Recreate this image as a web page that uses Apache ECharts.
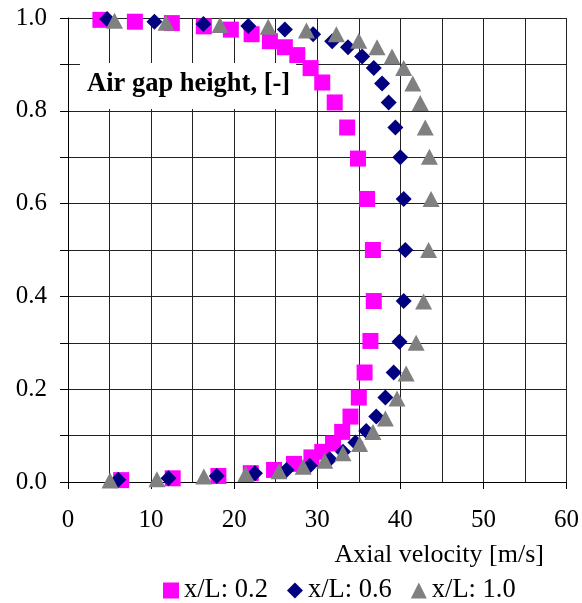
<!DOCTYPE html>
<html>
<head>
<meta charset="utf-8">
<script src="https://cdn.jsdelivr.net/npm/echarts@6/dist/echarts.min.js"></script>
<style>
  html, body { margin: 0; padding: 0; background: #fff; }
  #chart { width: 582px; height: 603px; }
</style>
</head>
<body>
<div id="chart"></div>
<script>
// Axial velocity [m/s] and normalised air gap height at three stations x/L
const velocity02 = [3.9, 8.05, 12.5, 16.35, 19.6, 22.1, 24.3, 26.1, 27.6, 29.2, 30.6, 32.1, 33.6, 34.9, 36.0,
  36.7, 36.8, 36.4, 35.7, 35.0, 34.0, 33.0, 31.9, 30.6, 29.3, 27.2, 24.8, 22.0, 18.1, 12.6, 6.4];
const height02 = [0.996, 0.992, 0.989, 0.982, 0.975, 0.965, 0.950, 0.937, 0.920, 0.892, 0.861, 0.818, 0.764, 0.697, 0.610,
  0.500, 0.390, 0.304, 0.236, 0.182, 0.141, 0.108, 0.083, 0.065, 0.053, 0.039, 0.026, 0.019, 0.013, 0.008, 0.004];

const velocity06 = [4.7, 10.4, 16.3, 21.7, 26.1, 29.5, 31.8, 33.7, 35.4, 36.8, 37.8, 38.6, 39.4, 40.0, 40.4,
  40.6, 40.4, 39.9, 39.2, 38.2, 37.1, 35.9, 34.6, 33.1, 31.5, 29.1, 26.3, 22.5, 17.9, 12.1, 6.05];
const height06 = [0.998, 0.992, 0.987, 0.983, 0.975, 0.965, 0.950, 0.937, 0.917, 0.892, 0.859, 0.818, 0.764, 0.700, 0.610,
  0.500, 0.390, 0.302, 0.236, 0.182, 0.141, 0.110, 0.085, 0.065, 0.049, 0.035, 0.026, 0.019, 0.013, 0.008, 0.005];

const velocity10 = [5.6, 11.8, 18.3, 24.1, 28.7, 32.3, 35.0, 37.2, 39.0, 40.4, 41.5, 42.4, 43.0, 43.5, 43.7,
  43.4, 42.8, 41.9, 40.7, 39.6, 38.2, 36.7, 35.1, 33.1, 30.9, 28.3, 25.4, 21.4, 16.35, 10.7, 5.05];
const height10 = [0.994, 0.990, 0.985, 0.981, 0.973, 0.965, 0.951, 0.937, 0.917, 0.892, 0.859, 0.817, 0.764, 0.701, 0.610,
  0.500, 0.389, 0.300, 0.234, 0.180, 0.137, 0.108, 0.082, 0.062, 0.046, 0.033, 0.023, 0.017, 0.012, 0.006, 0.003];

const seriesNames = ['x/L: 0.2', 'x/L: 0.6', 'x/L: 1.0'];

const pairs = (xs, ys) => xs.map((x, i) => [x, ys[i]]);
const FONT = 'Liberation Serif';

const chart = echarts.init(document.getElementById('chart'), null, { renderer: 'canvas' });

chart.setOption({
  animation: false,
  backgroundColor: '#ffffff',
  title: {
    text: 'Air gap height, [-]',
    left: 80,
    top: 63,
    backgroundColor: '#ffffff',
    padding: [8, 6, 11, 7],
    textStyle: { fontFamily: FONT, fontSize: 26.5, fontWeight: 'bold', color: '#000' }
  },
  legend: {
    data: [
      { name: seriesNames[0], icon: 'rect' },
      { name: seriesNames[1], icon: 'diamond' },
      { name: seriesNames[2], icon: 'triangle' }
    ],
    left: 163,
    top: 577,
    padding: 0,
    itemWidth: 16,
    itemHeight: 16,
    itemGap: 19,
    textStyle: { fontFamily: FONT, fontSize: 26.5, color: '#000' }
  },
  grid: { left: 68, right: 15, top: 18, bottom: 121, containLabel: false },
  xAxis: {
    type: 'value',
    min: 0, max: 60, interval: 10,
    name: 'Axial velocity [m/s]',
    nameLocation: 'middle',
    nameGap: 60,
    nameTextStyle: { fontFamily: FONT, fontSize: 26, color: '#000', padding: [0, 0, 0, 244] },
    axisLine: { show: true, lineStyle: { color: '#000', width: 1 } },
    axisTick: { show: true, length: 7, lineStyle: { color: '#000' } },
    axisLabel: { margin: 26, fontFamily: FONT, fontSize: 25, color: '#000' },
    splitLine: { show: true, lineStyle: { color: '#222', width: 1 } },
    minorTick: { show: false, splitNumber: 2 },
    minorSplitLine: { show: true, lineStyle: { color: '#222', width: 1 } }
  },
  yAxis: {
    type: 'value',
    min: 0, max: 1, interval: 0.2,
    axisLine: { show: true, lineStyle: { color: '#000', width: 1 } },
    axisTick: { show: true, length: 8, lineStyle: { color: '#000' } },
    axisLabel: { margin: 21, fontFamily: FONT, fontSize: 25, color: '#000',
      formatter: v => v.toFixed(1) },
    splitLine: { show: true, lineStyle: { color: '#222', width: 1 } },
    minorTick: { show: true, splitNumber: 2, length: 8, lineStyle: { color: '#000' } },
    minorSplitLine: { show: true, lineStyle: { color: '#222', width: 1 } }
  },
  series: [
    {
      name: seriesNames[0], type: 'scatter', symbol: 'rect', symbolSize: 16,
      itemStyle: { color: '#ff00ff', opacity: 1 },
      data: pairs(velocity02, height02)
    },
    {
      name: seriesNames[1], type: 'scatter', symbol: 'diamond', symbolSize: 16,
      itemStyle: { color: '#000080', opacity: 1 },
      data: pairs(velocity06, height06)
    },
    {
      name: seriesNames[2], type: 'scatter', symbol: 'triangle', symbolSize: [17, 16],
      itemStyle: { color: '#808080', opacity: 1 },
      data: pairs(velocity10, height10)
    }
  ]
});
</script>
</body>
</html>
